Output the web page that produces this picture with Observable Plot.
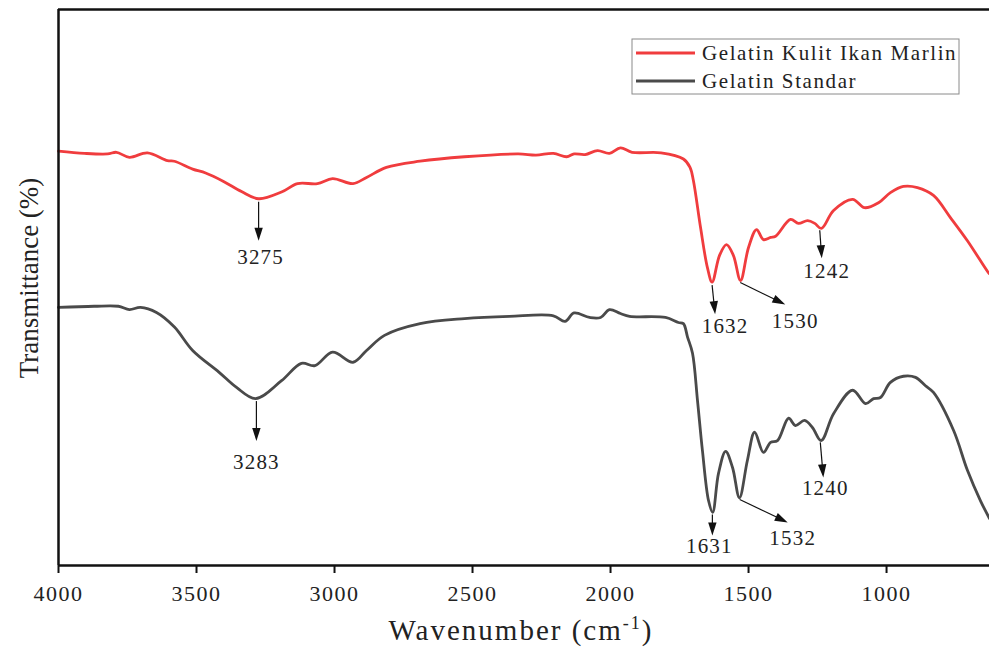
<!DOCTYPE html>
<html><head><meta charset="utf-8">
<script src="https://cdn.jsdelivr.net/npm/d3@7"></script>
<script src="https://cdn.jsdelivr.net/npm/@observablehq/plot@0.6"></script>
<style>
body{margin:0;background:#fff;}
#chart svg{display:block;}
</style></head><body><div id="chart"></div>
<script>
// ---- data ----
const seriesNames = ["Gelatin Kulit Ikan Marlin", "Gelatin Standar"];
const wnMarlin = [4000,3906,3822,3790,3743,3678,3605,3580,3514,3467,3402,3337,3275,3192,3134,3062,3007,2933,2884,2812,2690,2529,2334,2270,2207,2159,2132,2092,2047,2004,1964,1922,1817,1736,1712,1700,1674,1649,1632,1605,1580,1555,1529,1500,1471,1446,1420,1402,1348,1319,1286,1260,1236,1192,1123,1080,1029,986,939,888,830,768,707,631,627];
const tMarlin = [74.0,73.6,73.5,73.8,72.9,73.7,72.3,72.2,70.8,70.1,68.6,66.8,65.5,66.7,68.2,68.2,69.1,68.2,69.3,71.1,72.2,73.0,73.5,73.3,73.6,73.0,73.5,73.4,74.1,73.6,74.6,73.8,73.7,72.6,71.1,68.8,60.4,53.2,50.6,55.4,57.3,55.4,50.9,56.8,60.0,58.2,58.6,58.8,61.8,61.1,61.6,61.1,60.2,63.4,65.4,63.9,64.8,66.6,67.7,67.5,66.1,62.1,58.0,52.3,52.1];
const wnStandar = [4000,3871,3783,3743,3703,3645,3580,3514,3418,3355,3286,3192,3120,3071,3007,2933,2884,2819,2690,2529,2366,2207,2165,2132,2076,2036,2004,1964,1931,1801,1754,1736,1721,1703,1685,1667,1645,1630,1609,1583,1558,1533,1504,1478,1446,1420,1395,1355,1330,1297,1268,1237,1192,1123,1076,1047,1022,986,939,895,859,830,757,707,660,627];
const tStandar = [46.1,46.3,46.3,45.7,46.1,45.2,42.6,38.4,34.5,31.8,29.8,33.0,36.1,35.7,38.1,36.3,38.4,41.1,43.2,44.1,44.5,44.6,43.6,45.1,44.3,44.3,45.7,45.0,44.5,44.3,43.4,43.2,40.8,37.9,29.5,20.5,11.6,9.5,16.4,20.4,17.5,12.1,18.8,23.8,20.2,22.0,22.3,26.3,25.0,25.9,24.6,22.3,27.1,31.3,28.9,29.8,30.0,32.7,33.8,33.6,32.1,30.9,24.1,17.0,11.6,8.4];
const xTicks = [4000,3500,3000,2500,2000,1500,1000];
const peakSeries = [0,1,0,0,0,1,1,1];
const peakWn = [3275,3283,1632,1530,1242,1631,1532,1240];
const peakLabels = ["3275","3283","1632","1530","1242","1631","1532","1240"];

// ---- layout ----
const W = 989, H = 648, mL = 58, mR = 0, mT = 9, mB = 83;
const xDomain = [4000, 627], yDomain = [0, 99.3];
const xs = d3.scaleLinear(xDomain, [mL, W - mR]);
const ys = d3.scaleLinear(yDomain, [H - mB, mT]);
const serif = "'Liberation Serif', 'Times New Roman', serif";
const colors = ["#f03c3e", "#4a4a4a"];
// arrow tip offset from start [dx,dy] and label offset from tip [dx,dy], in pixels
const arrowLayout = [[0,39,2,17],[0,40,0,21],[3,29,10,12],[45,22,10,17],[2,28,5,13],[0,21,-3,11],[48,23,5,16],[3,35,2,11]];

const seriesWn = [wnMarlin, wnStandar];
const seriesT = [tMarlin, tStandar];
const data = [];
seriesNames.forEach((name, s) => seriesWn[s].forEach((w, i) => data.push({series: name, wn: w, t: seriesT[s][i]})));

function valAt(s, w) {
  const a = seriesWn[s], b = seriesT[s];
  for (let i = 0; i < a.length - 1; i++) {
    if (w <= a[i] && w >= a[i + 1]) {
      const f = (a[i] - w) / (a[i] - a[i + 1]);
      return b[i] + f * (b[i + 1] - b[i]);
    }
  }
  return b[b.length - 1];
}

const arrows = [], labels = [];
peakWn.forEach((w, k) => {
  const s = peakSeries[k];
  const [tdx, tdy, ldx, ldy] = arrowLayout[k];
  const px0 = xs(w), py0 = ys(valAt(s, w)) + 3;
  const px2 = px0 + tdx, py2 = py0 + tdy;
  const len = Math.hypot(tdx, tdy);
  const ux = tdx / len, uy = tdy / len;
  const rot = Math.atan2(-tdx, tdy) * 180 / Math.PI;
  arrows.push({
    x1: xs.invert(px0), y1: ys.invert(py0),
    x2: xs.invert(px2 - ux * 9), y2: ys.invert(py2 - uy * 9),
    xt: xs.invert(px2), yt: ys.invert(py2), rot
  });
  labels.push({x: xs.invert(px2 + ldx), y: ys.invert(py2 + ldy), text: peakLabels[k]});
});

const arrowHead = {
  draw(ctx) { ctx.moveTo(0, 0); ctx.lineTo(-4.2, -13); ctx.lineTo(4.2, -13); ctx.closePath(); }
};

const chart = Plot.plot({
  width: W, height: H,
  marginLeft: mL, marginRight: mR, marginTop: mT, marginBottom: mB,
  style: {fontFamily: serif, background: "#fff", color: "#222"},
  x: {domain: xDomain},
  y: {domain: yDomain, axis: null},
  color: {domain: seriesNames, range: colors},
  marks: [
    Plot.line(data, {x: "wn", y: "t", z: "series", stroke: "series", strokeWidth: 2.8, curve: "catmull-rom"}),
    Plot.link(arrows, {x1: "x1", y1: "y1", x2: "x2", y2: "y2", stroke: "#111", strokeWidth: 1.2}),
    Plot.dot(arrows, {x: "xt", y: "yt", symbol: arrowHead, rotate: "rot", fill: "#111", stroke: "none", r: 5}),
    Plot.text(labels, {x: "x", y: "y", text: "text", fontSize: 21, fill: "#222", fontFamily: serif}),
    Plot.ruleY([yDomain[1]], {stroke: "#111", strokeWidth: 2.5}),
    Plot.ruleX([xDomain[0]], {stroke: "#111", strokeWidth: 2.5}),
    Plot.ruleY([0], {stroke: "#111", strokeWidth: 2.5}),
    Plot.axisX({ticks: xTicks, tickSize: 8, tickPadding: 12, strokeWidth: 2, stroke: "#111", fontSize: 22, label: null, tickFormat: d => String(d), fill: "#222"})
  ]
});
document.getElementById("chart").appendChild(chart);

const svg = d3.select(chart);
// widen digits to match the reference face
svg.selectAll('g[aria-label="x-axis tick label"] text').attr("letter-spacing", "1.5px");
svg.selectAll('g[aria-label="text"] text').attr("letter-spacing", "1.2px");

// x-axis title
const xt = svg.append("text").attr("x", 521).attr("y", 640).attr("text-anchor", "middle")
  .attr("font-family", serif).attr("font-size", 29).attr("fill", "#222").attr("letter-spacing", "2px");
xt.append("tspan").text("Wavenumber (cm");
xt.append("tspan").attr("dy", -11).attr("font-size", 18).text("-1");
xt.append("tspan").attr("dy", 11).text(")");

// y-axis title
svg.append("text").attr("transform", "translate(38,278) rotate(-90)").attr("text-anchor", "middle")
  .attr("font-family", serif).attr("font-size", 27).attr("fill", "#222").text("Transmittance (%)");

// legend
const lg = svg.append("g");
lg.append("rect").attr("x", 632).attr("y", 39).attr("width", 327).attr("height", 55)
  .attr("fill", "#fff").attr("stroke", "#8a8a8a").attr("stroke-width", 1);
seriesNames.forEach((name, i) => {
  const y = 53 + i * 28;
  lg.append("line").attr("x1", 636).attr("x2", 695).attr("y1", y).attr("y2", y)
    .attr("stroke", colors[i]).attr("stroke-width", 3);
  lg.append("text").attr("x", 702).attr("y", y + 7).attr("text-anchor", "start")
    .attr("font-family", serif).attr("font-size", 21)
    .attr("fill", "#222").attr("letter-spacing", "1.6px").text(name);
});
</script></body></html>
